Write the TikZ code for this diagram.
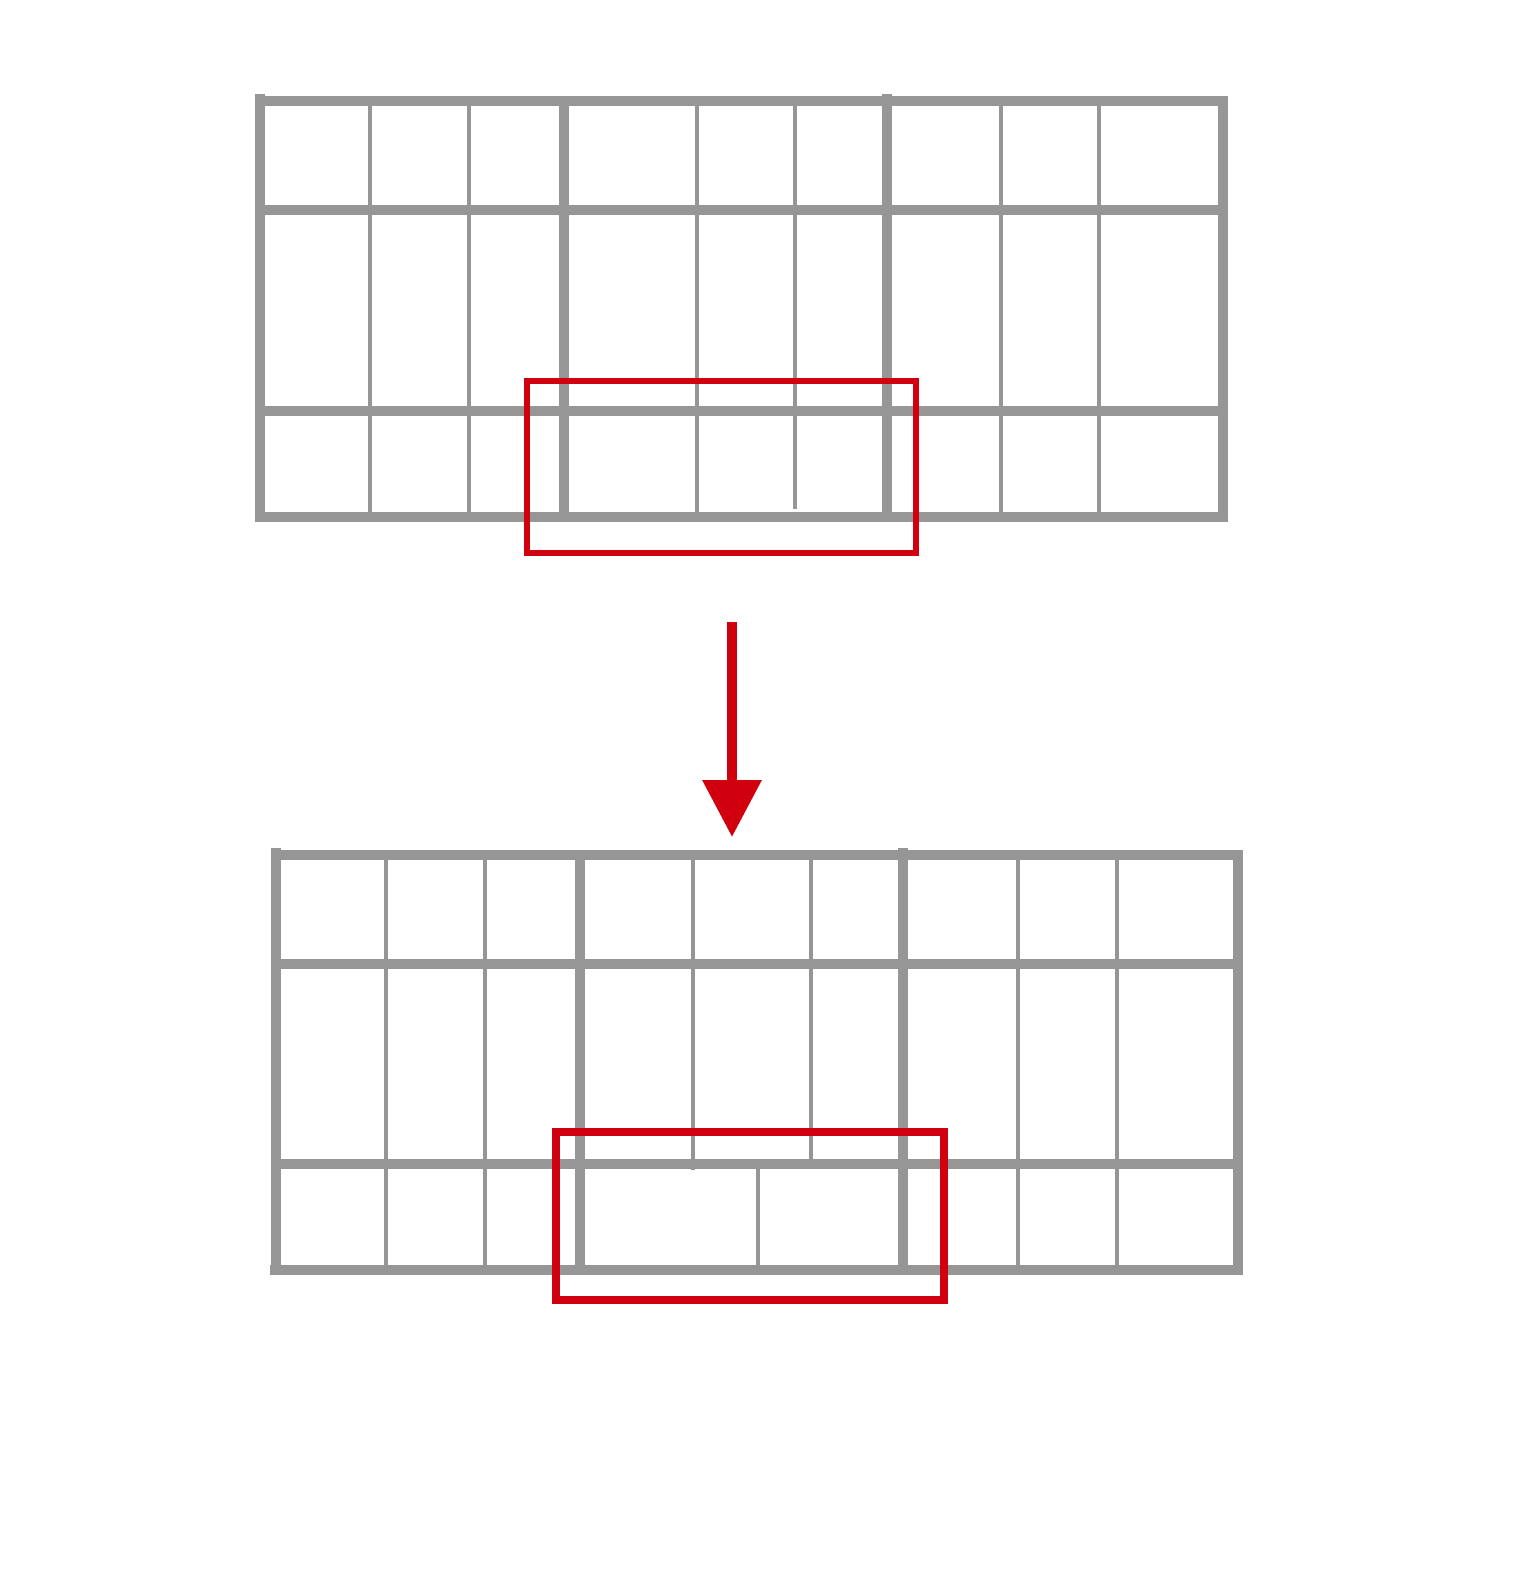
\documentclass[tikz,border=0pt]{standalone}
\usetikzlibrary{arrows.meta}
\definecolor{gridgray}{RGB}{150,150,150}
\definecolor{markred}{RGB}{208,0,15}
\tikzset{
	x=0.02cm,
	y=-0.02cm,
	heavybar/.style={draw=gridgray, line width=5.67pt},
	lightbar/.style={draw=gridgray, line width=2.2pt},
	markbox/.style={draw=markred, line width=3.4pt},
	zoomarrow/.style={draw=markred, line width=5.67pt, -{Triangle[length=1.14cm, width=1.14cm]}},
}
\begin{document}
\begin{tikzpicture}
			\useasboundingbox (0,0) rectangle (1512,1596);
			\foreach \y in {101,210,411} \draw[heavybar] (260,\y) -- (1228,\y);
			\draw[heavybar] (255,517) -- (1228,517);
			\draw[heavybar] (260,94) -- (260,522);
			\draw[heavybar] (564,96) -- (564,517);
			\draw[heavybar] (887,94) -- (887,517);
			\draw[heavybar] (1223,96) -- (1223,522);
			\foreach \x in {370,469,697,1001,1099} \draw[lightbar] (\x,101) -- (\x,517);
			\draw[lightbar] (795,101) -- (795,509);
			\draw[markbox] (527,381) rectangle (916,553);
			
			\coordinate (arrowtop) at (732,622);
			\coordinate (arrowtip) at (732,837);
			\draw[zoomarrow] (arrowtop) -- (arrowtip);
			
			\foreach \y in {855,964,1164} \draw[heavybar] (276,\y) -- (1243,\y);
			\draw[heavybar] (270,1270) -- (1243,1270);
			\draw[heavybar] (276,848) -- (276,1275);
			\draw[heavybar] (580,855) -- (580,1270);
			\draw[heavybar] (903,848) -- (903,1270);
			\draw[heavybar] (1238,850) -- (1238,1275);
			\foreach \x in {386,485,1018,1117} \draw[lightbar] (\x,855) -- (\x,1270);
			\draw[lightbar] (693,855) -- (693,1170);
			\draw[lightbar] (811,855) -- (811,1159);
			\draw[lightbar] (758,1164) -- (758,1270);
			\draw[markbox, line width=4.5pt] (556,1132) rectangle (944,1300);
		\end{tikzpicture}
\end{document}
